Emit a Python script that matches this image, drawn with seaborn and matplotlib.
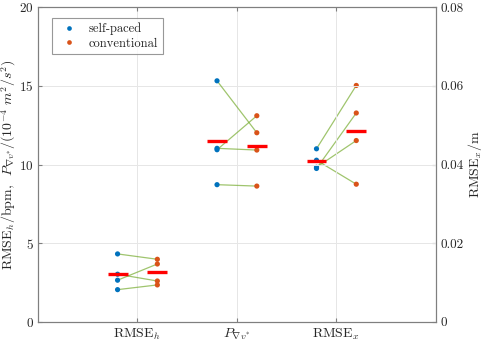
import numpy as np
import pandas as pd
import matplotlib
matplotlib.use("Agg")
import matplotlib.pyplot as plt
import seaborn as sns
from matplotlib.ticker import FuncFormatter

# 폰트 / 스타일 설정 (LaTeX 느낌)
sns.set_style("white")
plt.rcParams['font.family'] = 'serif'
plt.rcParams['font.serif'] = ['cmr10', 'DejaVu Serif']
plt.rcParams['mathtext.fontset'] = 'cm'
plt.rcParams['axes.formatter.use_mathtext'] = True
plt.rcParams['axes.unicode_minus'] = False

# 데이터
categories = [r'RMSE$_h$', r'$P_{\nabla v^{*}}$', r'RMSE$_x$']
groups = ['self-paced', 'conventional']

rmse_h_self = [4.32, 3.03, 2.65, 2.05]
rmse_h_conv = [3.98, 2.60, 3.68, 2.35]

p_self = [15.32, 11.03, 10.94, 8.72]
p_conv = [12.02, 10.92, 13.10, 8.63]

rmse_x_self = [0.0440, 0.0390, 0.0393, 0.0411]
rmse_x_conv = [0.0601, 0.0531, 0.0461, 0.0350]

colors = {'self-paced': '#0072BD', 'conventional': '#D95319'}
line_color = '#77AC30'
offset = 0.2


def build_df():
    rows = []
    series = [(rmse_h_self, rmse_h_conv), (p_self, p_conv), (rmse_x_self, rmse_x_conv)]
    for ci, (s, c) in enumerate(series):
        for subj in range(len(s)):
            rows.append({'cat': ci, 'subj': subj, 'group': 'self-paced',
                         'x': ci + 1 - offset, 'value': s[subj]})
            rows.append({'cat': ci, 'subj': subj, 'group': 'conventional',
                         'x': ci + 1 + offset, 'value': c[subj]})
    return pd.DataFrame(rows)


df = build_df()

fig = plt.figure(figsize=(4.84, 3.41), dpi=100)
ax = fig.add_axes([0.0785, 0.056, 0.822, 0.923])
ax2 = ax.twinx()

ax.set_xlim(0, 4)
ax.set_ylim(0, 20)
ax2.set_ylim(0, 0.08)

# 카테고리별로 왼쪽/오른쪽 축 선택
for ci in range(3):
    target = ax2 if ci == 2 else ax
    sub = df[df['cat'] == ci]
    # 짝지어진 선
    for subj, g in sub.groupby('subj'):
        g = g.sort_values('x')
        target.plot(g['x'], g['value'], color=line_color, lw=0.9, alpha=0.7, zorder=2)
    sns.scatterplot(data=sub, x='x', y='value', hue='group', palette=colors,
                    hue_order=groups, s=14, edgecolor='none', ax=target,
                    legend=(ci == 0), zorder=3)
    # 평균 막대
    for grp, sign in [('self-paced', -1), ('conventional', 1)]:
        m = sub[sub['group'] == grp]['value'].mean()
        xc = ci + 1 + sign * offset
        target.hlines(m, xc - 0.1, xc + 0.1, color='red', lw=2.4, zorder=4)

# 축 꾸미기
spine_col = '#7f7f7f'
text_col = '#262626'
ax.set_xticks([1, 2, 3])
ax.set_xticklabels(categories, fontsize=10, color=text_col)
ax.set_yticks([0, 5, 10, 15, 20])
ax.set_xlabel('')
ax.set_ylabel(r'RMSE$_h$/bpm,  $P_{\nabla v^{*}}/(10^{-4}\ m^2/s^2)$', fontsize=10,
              color=text_col, labelpad=1)
ax2.set_ylabel(r'RMSE$_x$/m', fontsize=10, color=text_col, labelpad=2)
ax2.set_yticks([0, 0.02, 0.04, 0.06, 0.08])
ax2.yaxis.set_major_formatter(FuncFormatter(lambda v, p: '%g' % v))
ax2.set_xlabel('')

ax.grid(True, color='#e6e6e6', lw=0.7)
ax.set_axisbelow(True)
ax.tick_params(axis='x', direction='in', top=True, bottom=True, length=3,
               colors=spine_col, labelcolor=text_col, labelsize=10)
ax.tick_params(axis='y', direction='in', left=True, right=False, length=3, pad=3,
               colors=spine_col, labelcolor=text_col, labelsize=9.5)
ax2.tick_params(axis='y', direction='in', right=True, length=3, pad=3,
                colors=spine_col, labelcolor=text_col, labelsize=9.5)
for a in (ax, ax2):
    for sp in a.spines.values():
        sp.set_color(spine_col)
        sp.set_linewidth(0.8)

leg = ax.legend(loc='upper left', bbox_to_anchor=(0.02, 0.985), fontsize=9,
                frameon=True, fancybox=False, edgecolor=spine_col,
                handletextpad=0.6, borderpad=0.35, labelspacing=0.2,
                markerscale=0.9)
leg.get_frame().set_linewidth(0.8)
for t in leg.get_texts():
    t.set_color(text_col)
ax.set_zorder(ax2.get_zorder() + 1)
ax.patch.set_visible(False)

fig.savefig('out.png', dpi=100)
plt.close(fig)
